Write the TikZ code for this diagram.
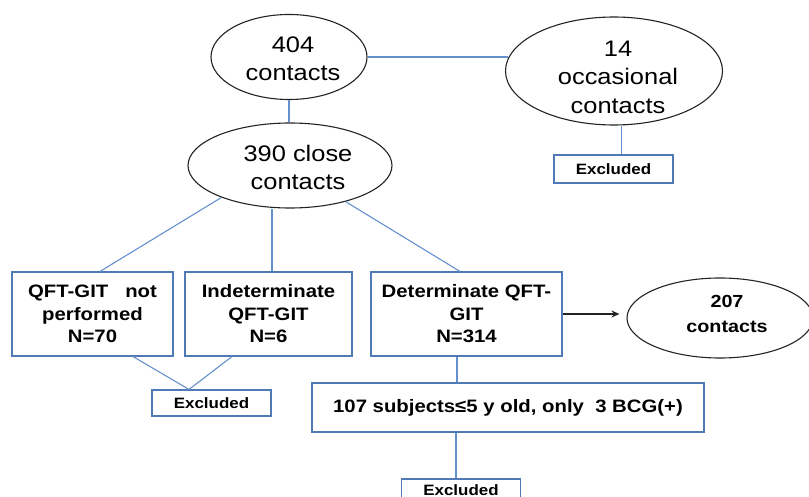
\documentclass[tikz,border=0pt]{standalone}
\usepackage{fontspec}
\setmainfont{Liberation Sans}[FakeStretch=1.13]
\usetikzlibrary{shapes.geometric,arrows.meta,calc}
\definecolor{connc}{RGB}{100,145,205}
\definecolor{boxc}{RGB}{79,122,182}
\definecolor{ovl}{RGB}{35,35,35}
\begin{document}
\begin{tikzpicture}[x=1pt,y=-1pt,
  oval/.style={ellipse,draw=ovl,line width=1.1pt,inner sep=0pt},
  ovaltxt/.style={align=center,inner sep=0pt,font=\fontsize{22.5}{28.5}\selectfont},
  stepbox/.style={draw=boxc,line width=1.1pt,inner sep=0pt,align=center,
    font=\bfseries\fontsize{18}{22.5}\selectfont,minimum height=84pt},
  exbox/.style={draw=boxc,line width=1.1pt,inner sep=0pt,
    font=\bfseries\fontsize{15}{18}\selectfont,minimum width=119pt,minimum height=26pt},
  conn/.style={draw=connc,line width=1.1pt},
  arr/.style={draw=ovl,line width=1.2pt,-{Stealth[length=8pt,width=7pt]}}]
\useasboundingbox (0,0) rectangle (809,497);

% ellipses
\node[oval,minimum width=156pt,minimum height=85pt] (e404) at (289,57) {};
\node[ovaltxt] (t404) at (293,59) {404\\contacts};
\node[oval,minimum width=217pt,minimum height=108pt] (e14) at (614,71) {};
\node[ovaltxt] (t14) at (618,77) {14\\occasional\\contacts};
\node[oval,minimum width=204pt,minimum height=85pt] (e390) at (290,165.5) {};
\node[ovaltxt] (t390) at (298,167.5) {390 close\\contacts};
\node[oval,minimum width=186pt,minimum height=80pt] (e207) at (720,318) {};
\node[align=center,inner sep=0pt,font=\bfseries\fontsize{17.5}{25}\selectfont] (t207) at (727,314) {207\\contacts};

% boxes
\node[stepbox,minimum width=161pt] (b1) at (92.5,314) {QFT-GIT\ \ \ not\\performed\\N=70};
\node[stepbox,minimum width=167pt] (b2) at (268.5,314) {Indeterminate\\QFT-GIT\\N=6};
\node[stepbox,minimum width=191pt] (b3) at (466.5,314) {Determinate QFT-\\GIT\\N=314};
\node[stepbox,minimum width=392pt,minimum height=49pt] (b107) at (508,407.5) {107 subjects≤5 y old, only\ \ 3 BCG(+)};

\node[exbox,minimum height=28pt] (ex1) at (613.5,169) {Excluded};
\node[exbox] (ex2) at (211.5,403) {Excluded};
\node[exbox,minimum height=22pt] (ex3) at (461,490) {Excluded};

% connectors
\draw[conn] (e404.east) -- (e404.east -| e14.173);
\draw[conn] (e404.south) -- (e404.south |- e390.north);
\draw[conn] ([xshift=8pt]ex1.north) -- ([xshift=8pt]ex1.north |- e14.south);
\draw[conn] (e390.205) -- ([xshift=7.5pt]b1.north);
\draw[conn] ([xshift=3.5pt]b2.north) -- ([xshift=3.5pt]b2.north |- e390.south);
\draw[conn] (e390.327) -- ([xshift=-6.5pt]b3.north);
\draw[conn] ([xshift=40.5pt]b1.south) -- ([xshift=-22.5pt]ex2.north);
\draw[conn] ([xshift=-36.5pt]b2.south) -- ([xshift=-22.5pt]ex2.north);
\draw[conn] ([xshift=-9.5pt]b3.south) -- ([xshift=-9.5pt]b3.south |- b107.north);
\draw[conn] ([xshift=-5pt]ex3.north) -- ([xshift=-5pt]ex3.north |- b107.south);
\draw[arr,shorten >=7pt] (b3.east) -- (b3.east -| e207.west);
\end{tikzpicture}
\end{document}
